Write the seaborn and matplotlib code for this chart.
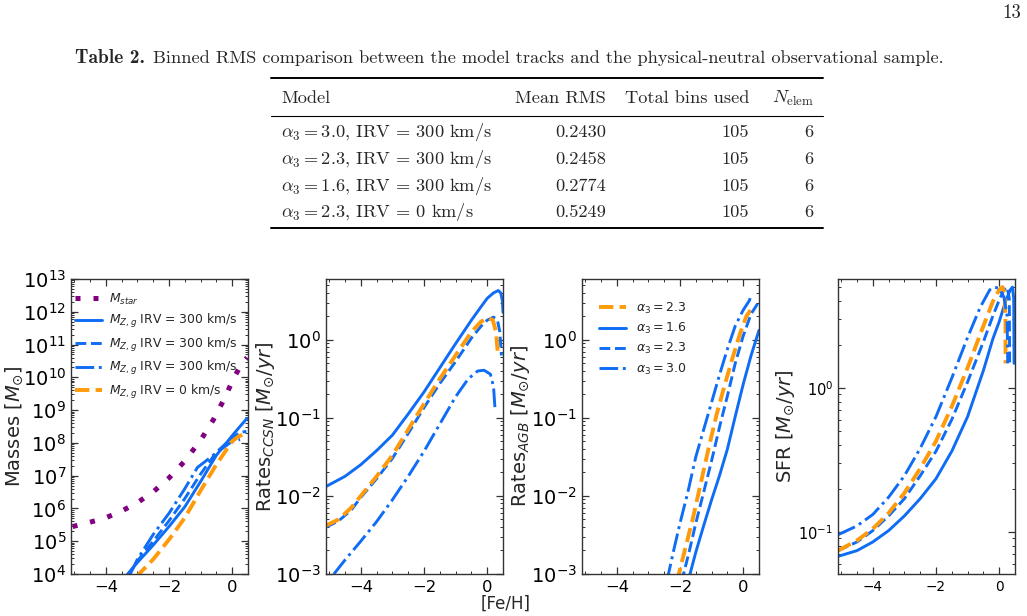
"""
Chemical evolution tracks - page excerpt with Table 2 and the four [Fe/H] panels
"""

import numpy as np
import pandas as pd
import seaborn as sns
import matplotlib.pyplot as plt
from matplotlib.lines import Line2D
from matplotlib.ticker import FixedLocator, MultipleLocator, LogLocator, NullFormatter

sns.set_style('ticks')
plt.rcParams['font.family'] = ['DejaVu Sans']
plt.rcParams['xtick.direction'] = 'in'
plt.rcParams['ytick.direction'] = 'in'
plt.rcParams['xtick.top'] = True
plt.rcParams['ytick.right'] = True

# Table data

Models = [r'$\alpha_3 = 3.0$, IRV = 300 km/s',
          r'$\alpha_3 = 2.3$, IRV = 300 km/s',
          r'$\alpha_3 = 1.6$, IRV = 300 km/s',
          r'$\alpha_3 = 2.3$, IRV = 0 km/s']
MeanRMS = ['0.2430', '0.2458', '0.2774', '0.5249']
TotalBins = ['105', '105', '105', '105']
NElem = ['6', '6', '6', '6']

# Panel 1 : masses

FeStar = [-5.05, -4.5, -4.0, -3.5, -3.0, -2.5, -2.0, -1.5, -1.0, -0.6, -0.25, 0.05, 0.3, 0.47]
MStar = [2.8e5, 3.8e5, 5.2e5, 8.3e5, 1.5e6, 3.2e6, 8.5e6, 2.8e7, 1.2e8, 5.0e8, 2.2e9, 9.5e9, 2.6e10, 4.0e10]

FeMz16 = [-3.35, -3.0, -2.5, -2.0, -1.5, -1.0, -0.5, 0.0, 0.25, 0.47]
Mz16 = [8.9e3, 2.24e4, 7.6e4, 2.8e5, 1.12e6, 6.6e6, 4.2e7, 1.66e8, 3.2e8, 5.6e8]
FeMz23 = [-3.3, -3.0, -2.5, -2.0, -1.5, -1.0, -0.5, 0.0, 0.25, 0.45]
Mz23 = [8.9e3, 2.5e4, 1.0e5, 4.2e5, 2.0e6, 1.12e7, 5.2e7, 1.41e8, 2.1e8, 2.24e8]
FeMz30 = [-3.25, -3.0, -2.5, -2.0, -1.5, -1.1, -0.9, -0.5, 0.0, 0.25]
Mz30 = [8.9e3, 2.8e4, 1.6e5, 7.1e5, 4.0e6, 1.78e7, 2.5e7, 5.0e7, 1.12e8, 1.26e8]
FeMz0 = [-3.05, -2.5, -2.0, -1.5, -1.0, -0.5, 0.0, 0.2, 0.32, 0.45]
Mz0 = [7.9e3, 2.8e4, 1.12e5, 5.2e5, 3.5e6, 2.2e7, 1.12e8, 1.58e8, 1.74e8, 1.26e8]

# Panel 2 : CCSN rates

FeCC16 = [-5.1, -4.5, -4.0, -3.5, -3.0, -2.5, -2.0, -1.5, -1.0, -0.5, -0.2, 0.0, 0.2, 0.35,
          0.43, 0.48, 0.5]
CC16 = [0.0132, 0.0178, 0.0251, 0.038, 0.060, 0.112, 0.214, 0.437, 0.891, 1.78, 2.63, 3.39,
        3.98, 4.27, 3.98, 3.16, 2.24]
FeCC23 = [-5.1, -4.7, -4.3, -4.0, -3.5, -3.0, -2.5, -2.0, -1.5, -1.0, -0.5, -0.2, 0.0, 0.2,
          0.32, 0.4, 0.45]
CC23 = [0.00398, 0.00479, 0.0066, 0.00955, 0.0166, 0.0302, 0.0631, 0.135, 0.275, 0.525, 1.05,
        1.48, 1.78, 1.95, 1.82, 1.26, 0.63]
FeCC30 = [-4.85, -4.5, -4.0, -3.5, -3.0, -2.5, -2.0, -1.5, -1.0, -0.6, -0.3, -0.1, 0.1, 0.2, 0.25]
CC30 = [0.001, 0.00151, 0.00263, 0.00468, 0.00891, 0.0178, 0.0372, 0.0832, 0.186, 0.316, 0.398,
        0.407, 0.363, 0.251, 0.126]
FeCC0 = [-5.1, -4.7, -4.3, -4.0, -3.5, -3.0, -2.5, -2.0, -1.5, -1.0, -0.5, -0.2, 0.03, 0.18,
         0.28, 0.33]
CC0 = [0.00417, 0.00501, 0.00708, 0.01, 0.0178, 0.0331, 0.0708, 0.151, 0.316, 0.631, 1.26, 1.70,
       1.91, 1.78, 1.26, 0.71]

# Panel 3 : AGB rates

FeAGB16 = [-1.75, -1.5, -1.25, -1.0, -0.75, -0.5, -0.25, 0.0, 0.25, 0.5]
AGB16 = [7.9e-4, 1.9e-3, 4.17e-3, 8.9e-3, 0.0182, 0.0398, 0.105, 0.269, 0.631, 1.32]
FeAGB23 = [-1.95, -1.7, -1.5, -1.25, -1.0, -0.75, -0.5, -0.25, 0.0, 0.25, 0.5]
AGB23 = [7.9e-4, 2.0e-3, 4.47e-3, 0.0112, 0.0282, 0.0759, 0.191, 0.501, 1.12, 2.14, 3.09]
FeAGB30 = [-2.42, -2.2, -2.0, -1.75, -1.5, -1.25, -1.0, -0.75, -0.5, -0.25, 0.0, 0.2, 0.22]
AGB30 = [7.9e-4, 2.0e-3, 4.47e-3, 0.0112, 0.0316, 0.0708, 0.158, 0.355, 0.759, 1.51, 2.4, 3.2,
         3.45]
FeAGB0 = [-2.1, -1.85, -1.6, -1.35, -1.1, -0.85, -0.6, -0.35, -0.1, 0.1, 0.3]
AGB0 = [7.9e-4, 2.0e-3, 5.0e-3, 0.0141, 0.0398, 0.107, 0.251, 0.562, 1.2, 2.0, 2.63]

# Panel 4 : SFR

FeSFR16 = [-5.1, -4.5, -4.0, -3.5, -3.0, -2.5, -2.0, -1.5, -1.0, -0.5, -0.2, 0.0, 0.2, 0.35,
           0.42, 0.46, 0.47]
SFR16 = [0.0676, 0.0741, 0.0851, 0.102, 0.129, 0.170, 0.234, 0.363, 0.631, 1.32, 2.19, 2.88,
         3.98, 4.79, 5.01, 4.17, 1.48]
FeSFR23 = [-5.1, -4.5, -4.0, -3.5, -3.0, -2.5, -2.0, -1.5, -1.0, -0.5, -0.2, 0.0, 0.15, 0.25,
           0.32, 0.33]
SFR23 = [0.0741, 0.0851, 0.102, 0.129, 0.170, 0.245, 0.363, 0.603, 1.10, 2.09, 3.16, 4.07, 4.79,
         5.01, 4.17, 1.48]
FeSFR30 = [-5.1, -4.5, -4.0, -3.5, -3.0, -2.5, -2.0, -1.5, -1.0, -0.6, -0.3, -0.15, 0.0, 0.15,
           0.25, 0.27]
SFR30 = [0.0955, 0.110, 0.132, 0.174, 0.245, 0.380, 0.631, 1.17, 2.24, 3.63, 4.79, 5.01, 4.90,
         4.27, 3.16, 1.48]
FeSFR0 = [-5.1, -4.5, -4.0, -3.5, -3.0, -2.5, -2.0, -1.5, -1.0, -0.5, -0.2, 0.0, 0.1, 0.17,
          0.2, 0.2]
SFR0 = [0.0741, 0.0871, 0.105, 0.135, 0.186, 0.275, 0.427, 0.741, 1.38, 2.69, 3.98, 4.79, 5.01,
        4.57, 2.82, 1.48]

FeTicks = [-4, -2, 0]

# Styles

Blue = '#0f6cf5'
Orange = '#ff9a0a'
Purple = '#800080'

Solid = dict(color=Blue, lw=2.1, linestyle='-')
Dashed = dict(color=Blue, lw=2.1, linestyle='--')
DashDot = dict(color=Blue, lw=2.1, linestyle='-.')
OrangeDash = dict(color=Orange, lw=2.8, linestyle='--')

W, H = 1027, 616
fig = plt.figure(figsize=(W / 100, H / 100), dpi=100)

def fx(x):
    return x / W

def fy(y):
    return 1 - y / H

# Page header and table

TS = 13.2
fig.text(fx(1021), fy(13), '13', family='cmr10', fontsize=13.5, ha='right', va='center')
fig.text(fx(75), fy(58), 'Table 2.', family='cmb10', fontsize=14, ha='left', va='center')
fig.text(fx(153), fy(58), 'Binned RMS comparison between the model tracks and the '
         'physical-neutral observational sample.', family='cmr10', fontsize=TS,
         ha='left', va='center')

for y, w in [(78, 1.4), (116, 0.8), (228, 1.4)]:
    fig.add_artist(Line2D([fx(271), fx(823)], [fy(y), fy(y)], lw=w, color='k'))

fig.text(fx(281), fy(98), 'Model', family='cmr10', fontsize=TS, ha='left', va='center')
fig.text(fx(606), fy(98), 'Mean RMS', family='cmr10', fontsize=TS, ha='right', va='center')
fig.text(fx(749), fy(98), 'Total bins used', family='cmr10', fontsize=TS, ha='right', va='center')
fig.text(fx(814), fy(98), r'$N_{\mathrm{elem}}$', fontsize=TS, math_fontfamily='cm',
         ha='right', va='center')

RowY = [132, 159, 186, 212]
for i in range(len(Models)):
    fig.text(fx(281), fy(RowY[i]), Models[i], family='cmr10', math_fontfamily='cm',
             fontsize=TS, ha='left', va='center')
    fig.text(fx(606), fy(RowY[i]), MeanRMS[i], family='cmr10', fontsize=TS, ha='right', va='center')
    fig.text(fx(749), fy(RowY[i]), TotalBins[i], family='cmr10', fontsize=TS, ha='right', va='center')
    fig.text(fx(813), fy(RowY[i]), NElem[i], family='cmr10', fontsize=TS, ha='right', va='center')

# Panels

Lefts = [71, 326, 582, 838]
Axes = [fig.add_axes([fx(l), fy(574), fx(177), 295 / H]) for l in Lefts]

def draw(ax, x, y, style, label=None):
    df = pd.DataFrame({'FeH': x, 'Val': y})
    sns.lineplot(data=df, x='FeH', y='Val', ax=ax, sort=False, estimator=None,
                 label=label, **style)

def style_axis(ax, ylim, ylabel, ytick_size, xtick_size, label_x, xpad):
    ax.set_yscale('log')
    ax.set_xlim(-5.1, 0.5)
    ax.set_ylim(*ylim)
    ax.xaxis.set_major_locator(FixedLocator(FeTicks))
    ax.xaxis.set_minor_locator(MultipleLocator(0.5))
    ax.yaxis.set_major_locator(LogLocator(base=10, numticks=30))
    ax.yaxis.set_minor_locator(LogLocator(base=10, subs=np.arange(2, 10), numticks=100))
    ax.yaxis.set_minor_formatter(NullFormatter())
    ax.tick_params(which='major', length=5, width=0.9, colors='#333333')
    ax.tick_params(which='minor', length=2.5, width=0.7, colors='#333333')
    ax.tick_params(axis='y', which='major', labelsize=ytick_size, labelcolor='k')
    ax.tick_params(axis='x', which='major', labelsize=xtick_size, labelcolor='k', pad=xpad)
    for s in ax.spines.values():
        s.set_color('#333333')
        s.set_linewidth(1.0)
    ax.set_xlabel('')
    ax.set_ylabel(ylabel, fontsize=14)
    ax.yaxis.set_label_coords(label_x, 0.5)

# Masses

ax = Axes[0]
draw(ax, FeStar, MStar, dict(color=Purple, lw=3.6, linestyle=(0, (1, 2.6))), r'$M_{star}$')
draw(ax, FeMz16, Mz16, Solid, r'$M_{Z,g}$ IRV = 300 km/s')
draw(ax, FeMz23, Mz23, Dashed, r'$M_{Z,g}$ IRV = 300 km/s')
draw(ax, FeMz30, Mz30, DashDot, r'$M_{Z,g}$ IRV = 300 km/s')
draw(ax, FeMz0, Mz0, OrangeDash, r'$M_{Z,g}$ IRV = 0 km/s')
style_axis(ax, (1e4, 1e13), r'Masses [$M_{\odot}$]', 14, 11.8, -0.26, 4.5)
ax.legend(loc='upper left', bbox_to_anchor=(0.0, 0.97), frameon=False, fontsize=8.9,
          handlelength=2.2, handletextpad=0.6, labelspacing=0.45, borderaxespad=0.1,
          borderpad=0.2)

# CCSN rates

ax = Axes[1]
draw(ax, FeCC16, CC16, Solid)
draw(ax, FeCC23, CC23, Dashed)
draw(ax, FeCC0, CC0, OrangeDash)
draw(ax, FeCC30, CC30, DashDot)
style_axis(ax, (1e-3, 6), r'Rates$_{CCSN}$ [$M_{\odot}/yr$]', 14, 11.8, -0.277, 4.5)

# AGB rates

ax = Axes[2]
draw(ax, FeAGB0, AGB0, OrangeDash, r'$\alpha_3 = 2.3$')
draw(ax, FeAGB16, AGB16, Solid, r'$\alpha_3 = 1.6$')
draw(ax, FeAGB23, AGB23, Dashed, r'$\alpha_3 = 2.3$')
draw(ax, FeAGB30, AGB30, DashDot, r'$\alpha_3 = 3.0$')
style_axis(ax, (1e-3, 6), r'Rates$_{AGB}$ [$M_{\odot}/yr$]', 14, 11.8, -0.282, 4.5)
ax.legend(loc='upper left', bbox_to_anchor=(0.08, 0.935), frameon=False, fontsize=9,
          handlelength=2.2, handletextpad=0.8, labelspacing=0.42, borderaxespad=0,
          borderpad=0.2)

# SFR

ax = Axes[3]
draw(ax, FeSFR16, SFR16, Solid)
draw(ax, FeSFR23, SFR23, Dashed)
draw(ax, FeSFR0, SFR0, OrangeDash)
draw(ax, FeSFR30, SFR30, DashDot)
style_axis(ax, (0.051, 5.7), r'SFR [$M_{\odot}/yr$]', 10.5, 9.8, -0.232, 4.5)

fig.text(fx(506), fy(604), '[Fe/H]', fontsize=12, ha='center', va='center')

plt.savefig('out.png', dpi=100)
